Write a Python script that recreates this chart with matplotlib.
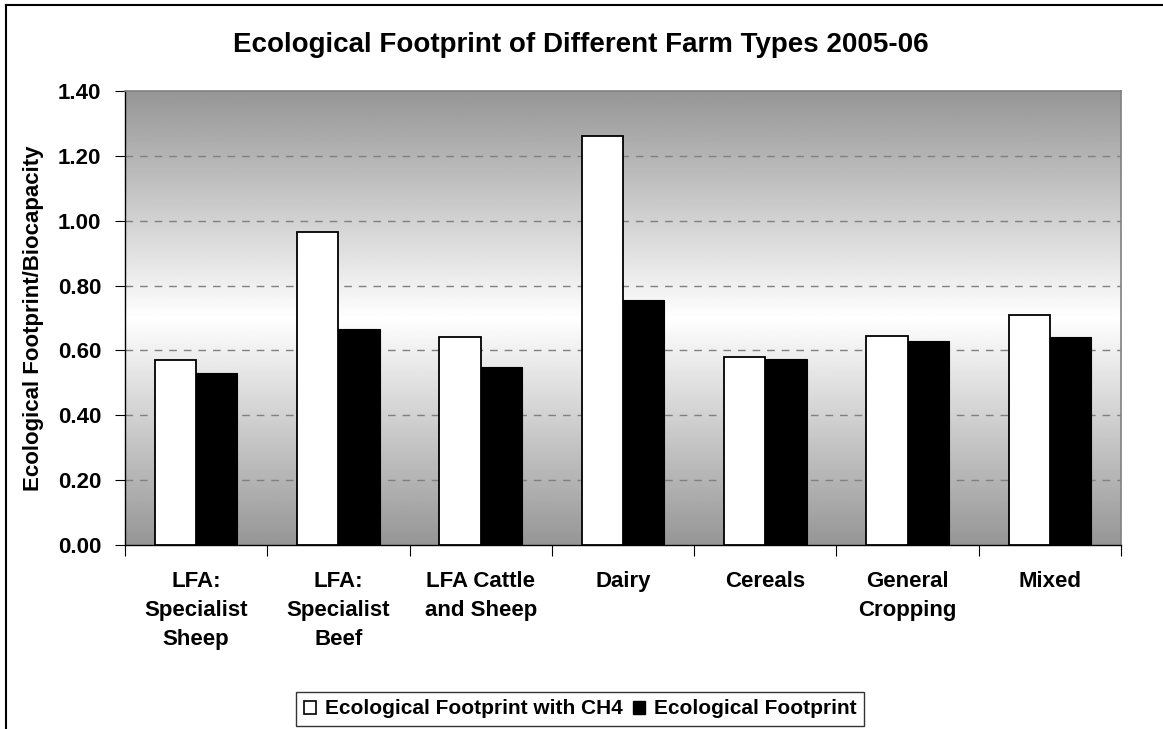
import numpy as np
import matplotlib.pyplot as plt
from matplotlib.patches import Patch
from matplotlib.lines import Line2D

plt.rcParams["font.family"] = ["Liberation Sans", "DejaVu Sans"]
plt.rcParams["font.weight"] = "bold"

# 数据
categories = ["LFA:\nSpecialist\nSheep", "LFA:\nSpecialist\nBeef", "LFA Cattle\nand Sheep",
              "Dairy", "Cereals", "General\nCropping", "Mixed"]
ef_with_ch4 = [0.57, 0.965, 0.64, 1.26, 0.58, 0.645, 0.71]
ef = [0.53, 0.665, 0.55, 0.755, 0.575, 0.63, 0.64]
series_names = ["Ecological Footprint with CH4", "Ecological Footprint"]
yticks = [0.0, 0.2, 0.4, 0.6, 0.8, 1.0, 1.2, 1.4]

W, H = 1163, 729
fig = plt.figure(figsize=(W / 100, H / 100), dpi=100)
ax = fig.add_axes([125 / W, 1 - 545 / H, (1121 - 125) / W, (545 - 91) / H])

# 背景渐变：上下灰色，中间白色
t = np.linspace(0, 1, 256)
g = 150 + 105 * (1 - np.abs(t - 0.5) * 2)
grad = np.repeat(g[:, None], 2, axis=1) / 255.0
ax.imshow(grad, cmap="gray", vmin=0, vmax=1, aspect="auto",
          extent=[0, 1, 0, 1], transform=ax.transAxes, zorder=0, interpolation="bilinear")

x = np.arange(len(categories))
bw = 0.29
ax.bar(x - bw / 2, ef_with_ch4, bw, color="white", edgecolor="black", linewidth=1.3,
       zorder=3, label=series_names[0])
ax.bar(x + bw / 2, ef, bw, color="black", edgecolor="black", linewidth=0.8,
       zorder=3, label=series_names[1])

ax.set_xlim(-0.5, len(categories) - 0.5)
ax.set_ylim(0, 1.4)
ax.set_yticks(yticks)
ax.set_yticklabels(["%.2f" % v for v in yticks], fontsize=16, fontweight="bold")
for v in yticks[1:-1]:
    ax.axhline(v, color="#808080", linewidth=1, linestyle=(0, (5.5, 5)), zorder=1)

# x 轴：边界处主刻度，类别标签放在次刻度
ax.set_xticks(np.arange(len(categories) + 1) - 0.5)
ax.set_xticklabels([])
ax.set_xticks(x, minor=True)
ax.set_xticklabels(categories, minor=True, fontsize=16, fontweight="bold", linespacing=1.5)
ax.tick_params(axis="x", which="major", length=8, direction="out", color="black")
ax.tick_params(axis="x", which="minor", length=0, pad=19)
ax.tick_params(axis="y", length=7, direction="out", pad=10, color="black")

for side in ["top", "right"]:
    ax.spines[side].set_color("#808080")
    ax.spines[side].set_linewidth(1.2)
for side in ["left", "bottom"]:
    ax.spines[side].set_color("black")
    ax.spines[side].set_linewidth(1.0)

ax.set_ylabel("Ecological Footprint/Biocapacity", fontsize=16, fontweight="bold", labelpad=10)

fig.text(581 / W, 1 - 45 / H, "Ecological Footprint of Different Farm Types 2005-06",
         ha="center", va="center", fontsize=20, fontweight="bold")

handles = [Patch(facecolor="white", edgecolor="black", linewidth=1.2),
           Patch(facecolor="black", edgecolor="black")]
leg = fig.legend(handles, series_names, loc="center", bbox_to_anchor=(580 / W, 1 - 709 / H),
                 ncol=2, frameon=True, fancybox=False, edgecolor="black",
                 handlelength=0.6, handleheight=0.6, handletextpad=0.4, columnspacing=0.5,
                 borderpad=0.35, prop={"weight": "bold", "size": 15})
leg.get_frame().set_linewidth(1.0)

# 图表外框（只可见左边和上边）
fig.add_artist(Line2D([6 / W, 6 / W], [0, 1 - 5 / H], color="black", linewidth=1.5,
                      transform=fig.transFigure))
fig.add_artist(Line2D([6 / W, 1], [1 - 5 / H, 1 - 5 / H], color="black", linewidth=1.5,
                      transform=fig.transFigure))

fig.savefig("out.png", dpi=100)
